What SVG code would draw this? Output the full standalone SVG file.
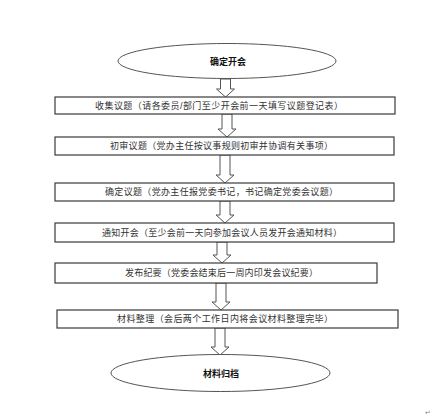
<svg xmlns="http://www.w3.org/2000/svg" width="432" height="418" viewBox="0 0 432 418">
<style>
.box{fill:#fff;stroke:#3a3a3a;stroke-width:1.2}
.ell{fill:#fff;stroke:#555;stroke-width:1}
.arr{fill:#fff;stroke:#555;stroke-width:1;stroke-linejoin:miter}
.t{font-family:"Liberation Sans","Noto Sans CJK SC",sans-serif;font-size:9px;fill:#333;text-anchor:middle;dominant-baseline:central}
.b{font-weight:bold;fill:#111}
</style>
<rect width="432" height="418" fill="#fff"/>
<g id="connectors">
<path class="arr" d="M220.5,79 V89 H216.5 L225.5,97 L234.5,89 H230.5 V79 Z"/>
<path class="arr" d="M222,114 V129 H218 L227,137 L236,129 H232 V114 Z"/>
<path class="arr" d="M220,155 V175 H216 L225,183 L234,175 H230 V155 Z"/>
<path class="arr" d="M220,201 V215 H216 L225,223 L234,215 H230 V201 Z"/>
<path class="arr" d="M217,242 V255 H213 L222,263 L231,255 H227 V242 Z"/>
<path class="arr" d="M216,283 V302 H212 L221,310 L230,302 H226 V283 Z"/>
<path class="arr" d="M215,328 V347 H211 L220,355 L229,347 H225 V328 Z"/>
</g>
<g id="n0"><ellipse class="ell" cx="227" cy="61" rx="109" ry="17.5"/><text class="t b" x="228" y="62">确定开会</text></g>
<g id="n1"><rect class="box" x="55" y="97" width="340" height="17"/><text class="t" x="219" y="105.5" textLength="248" lengthAdjust="spacing">收集议题（请各委员/部门至少开会前一天填写议题登记表）</text></g>
<g id="n2"><rect class="box" x="55" y="137" width="339" height="18"/><text class="t" x="221.5" y="146" textLength="223" lengthAdjust="spacing">初审议题（党办主任按议事规则初审并协调有关事项）</text></g>
<g id="n3"><rect class="box" x="55" y="183" width="339" height="18"/><text class="t" x="221.5" y="192" textLength="233" lengthAdjust="spacing">确定议题（党办主任报党委书记，书记确定党委会议题）</text></g>
<g id="n4"><rect class="box" x="55" y="223" width="339" height="19"/><text class="t" x="222" y="232.5" textLength="240" lengthAdjust="spacing">通知开会（至少会前一天向参加会议人员发开会通知材料）</text></g>
<g id="n5"><rect class="box" x="55" y="263" width="322" height="20"/><text class="t" x="221.5" y="273" textLength="193" lengthAdjust="spacing">发布纪要（党委会结束后一周内印发会议纪要）</text></g>
<g id="n6"><rect class="box" x="57" y="310" width="341" height="18"/><text class="t" x="225" y="319" textLength="216" lengthAdjust="spacing">材料整理（会后两个工作日内将会议材料整理完毕）</text></g>
<g id="n7"><ellipse class="ell" cx="220.5" cy="373" rx="109.5" ry="18.5"/><text class="t b" x="221" y="374">材料归档</text></g>
<text x="428" y="415" style="font-family:'DejaVu Sans',sans-serif;font-size:7px;fill:#888;text-anchor:middle">↵</text>
</svg>
